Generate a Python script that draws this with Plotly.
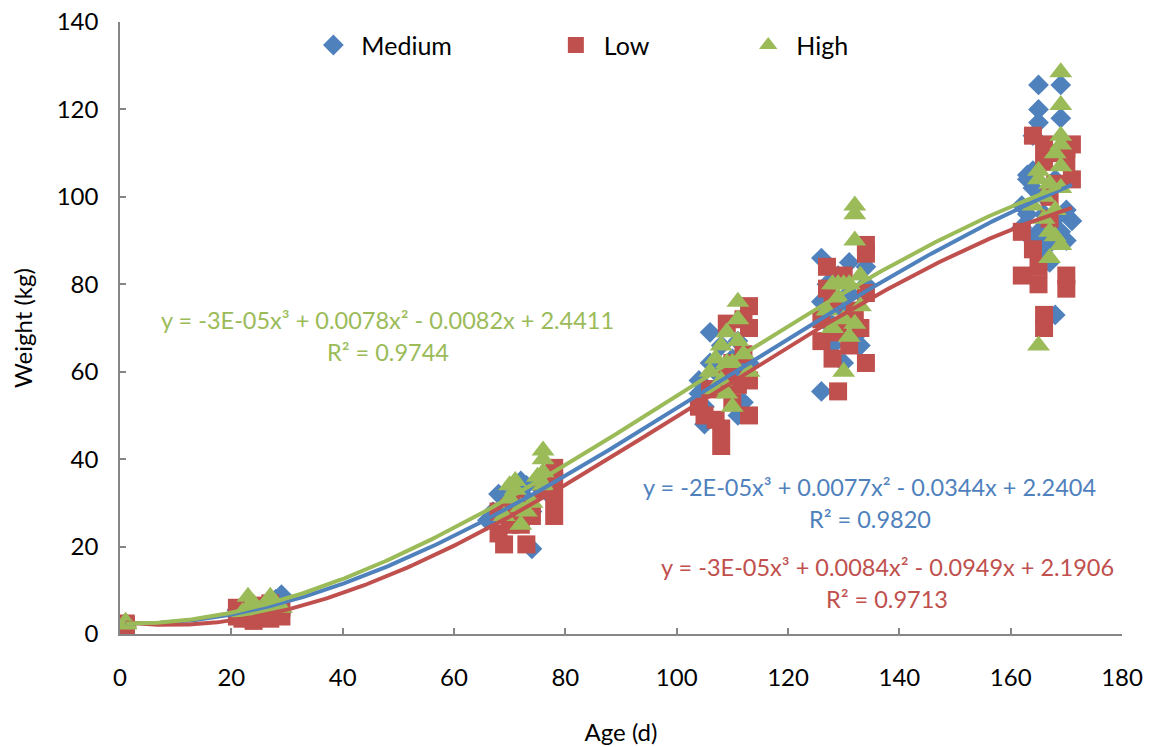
import numpy as np
import plotly.graph_objects as go

# ---------------- data ----------------
medium_age = [1, 1, 1, 1, 1,
              21, 22, 23, 24, 25, 26, 27, 28, 29, 29,
              66, 67, 68, 69, 70, 70, 71, 72, 72, 73, 74, 74, 75, 76, 77, 73,
              104, 104, 105, 105, 106, 106, 107, 108, 108, 109, 110, 111, 112, 112, 113, 111,
              126, 126, 126, 127, 128, 128, 129, 130, 130, 131, 132, 133, 134, 134, 127, 131,
              162, 162, 163, 163, 164, 164, 164, 165, 165, 165, 166, 166, 167, 168, 168, 169, 169, 170, 171,
              165, 166, 167, 168, 170, 163, 164, 169]
medium_weight = [2.0, 2.4, 1.9, 2.5, 2.2,
                 5.5, 6.5, 7.5, 4.5, 5.0, 6.0, 4.0, 8.0, 9.0, 5.0,
                 26, 28, 32, 27, 30, 27, 33, 35, 29, 31, 19.5, 28, 34, 36, 32, 34,
                 58, 55, 48, 52, 69, 62, 60, 66, 57, 56, 63, 50, 53, 59, 62, 67,
                 86, 76, 55.5, 80, 70, 66, 82, 74, 62, 78, 68, 66, 84, 80, 72, 85,
                 93, 98, 104, 105, 114, 106, 102, 125.6, 120, 117, 100, 96, 90, 73, 104, 125.6, 118, 97, 94.5,
                 92, 88, 85, 95, 90, 96, 90, 92]

low_age = [1, 1, 1, 1, 1,
           21, 21, 22, 23, 24, 25, 26, 27, 27, 28, 29, 29,
           68, 68, 69, 70, 70, 71, 72, 72, 73, 74, 76, 77, 78, 78, 78, 78,
           104, 105, 106, 107, 107, 108, 108, 109, 109, 110, 111, 112, 113, 113, 113, 113, 112, 110,
           126, 126, 127, 127, 128, 128, 129, 129, 130, 131, 132, 133, 134, 134, 134, 134,
           162, 162, 164, 164, 165, 165, 166, 166, 166, 166, 167, 167, 168, 169, 170, 170, 170, 170, 171, 171]
low_weight = [1.8, 2.3, 2.0, 2.4, 2.0,
              4.0, 6.0, 3.5, 5.0, 3.0, 4.5, 6.5, 3.5, 7.0, 5.0, 4.0, 6.0,
              23, 28, 20.5, 25, 29, 30, 25, 29, 20.5, 27, 33, 36, 27, 31, 35, 38,
              52, 50, 56, 49, 56, 43, 47, 60, 71, 62, 57, 64, 58, 50, 70, 75, 72, 53,
              72, 67, 84, 79, 63, 76, 55.5, 69, 82, 66, 74, 70, 89, 87, 62, 78,
              82, 92, 114, 88, 84, 80, 70, 73, 108, 112, 100, 95, 103, 110, 111, 108, 82, 79, 112, 104]

high_age = [1, 1, 1, 1, 1,
            22, 23, 23, 24, 25, 26, 27, 27, 28, 29,
            69, 70, 70, 71, 71, 72, 72, 73, 74, 75, 76, 76, 76, 76,
            106, 107, 108, 108, 109, 109, 110, 110, 111, 111, 111, 112, 113, 107, 109,
            127, 128, 128, 129, 129, 130, 130, 130, 131, 131, 132, 132, 132, 132, 133, 133,
            165, 165, 165, 166, 166, 167, 167, 168, 168, 168, 169, 169, 169, 169, 169, 169, 169, 164, 167]
high_weight = [2.2, 2.8, 2.3, 2.6, 2.3,
               5.0, 8.5, 6.0, 7.0, 5.5, 6.0, 8.5, 6.5, 7.0, 6.0,
               27, 31, 34, 33, 35, 29, 25, 28, 30, 36, 34, 37, 40, 42,
               60, 63, 58, 66, 69, 55, 52, 62, 76, 72, 67, 64, 60, 56, 62,
               74, 80, 70, 80, 77, 60, 80, 72, 68, 80, 96, 98, 90, 71, 75, 82,
               66, 106, 104, 100, 95, 92, 86, 110, 97, 91, 128.5, 121, 114, 112, 107, 102, 89, 98, 103]

series_names = ["Medium", "Low", "High"]
equations = ["y = -2E-05x³ + 0.0077x² - 0.0344x + 2.2404",
             "y = -3E-05x³ + 0.0084x² - 0.0949x + 2.1906",
             "y = -3E-05x³ + 0.0078x² - 0.0082x + 2.4411"]
r_squared = ["R² = 0.9820", "R² = 0.9713", "R² = 0.9744"]

# ---------------- styling ----------------
FONT = "Lato"
colors = {"Medium": "#4F81BD", "Low": "#C0504D", "High": "#9BBB59"}
symbols = {"Medium": "diamond", "Low": "square", "High": "triangle-up"}
sizes = {"Medium": 16, "Low": 18, "High": 20}
legend_ids = {"Medium": "legend", "Low": "legend2", "High": "legend3"}
legend_x = {"Medium": 0.185, "Low": 0.427, "High": 0.619}

data = {"Medium": (medium_age, medium_weight),
        "Low": (low_age, low_weight),
        "High": (high_age, high_weight)}

fig = go.Figure()
for name in series_names:
    x, y = data[name]
    fig.add_trace(go.Scatter(
        x=x, y=y, mode="markers", name=name, legend=legend_ids[name],
        marker=dict(symbol=symbols[name], size=sizes[name], color=colors[name],
                    line=dict(width=0)),
        hoverinfo="skip"))

# polynomial (order 3) trendlines fitted to each series
for name in series_names:
    x, y = data[name]
    coef = np.polyfit(x, y, 3)
    xs = np.linspace(min(x), max(x), 300)
    fig.add_trace(go.Scatter(
        x=xs, y=np.polyval(coef, xs), mode="lines", showlegend=False,
        line=dict(color=colors[name], width=4), hoverinfo="skip"))

# equation labels
eq_pos = {"Medium": (134.7, 33.6, 26.3), "Low": (137.8, 15.3, 8.0), "High": (48.1, 71.8, 64.5)}
for i, name in enumerate(series_names):
    xp, y1, y2 = eq_pos[name]
    fig.add_annotation(x=xp, y=y1, xref="x", yref="y", text=equations[i], showarrow=False,
                       font=dict(family=FONT, size=23.5, color=colors[name]))
    fig.add_annotation(x=xp, y=y2, xref="x", yref="y", text=r_squared[i], showarrow=False,
                       font=dict(family=FONT, size=23.5, color=colors[name]))

axis_common = dict(showgrid=False, zeroline=False, showline=True, linecolor="#868686",
                   linewidth=1.5, ticks="inside", ticklen=6, tickcolor="#868686",
                   tickwidth=1.5, automargin=False, ticklabeloverflow="allow",
                   tickfont=dict(family=FONT, size=24, color="#000000"))

legend_common = dict(orientation="h", y=0.962, xanchor="left", yanchor="middle",
                     itemwidth=46, font=dict(family=FONT, size=25, color="#000000"),
                     bgcolor="rgba(0,0,0,0)")

fig.update_layout(
    width=1143, height=739,
    margin=dict(l=112, r=29, t=14, b=113),
    paper_bgcolor="white", plot_bgcolor="white",
    font=dict(family=FONT, size=23, color="#000000"),
    xaxis=dict(range=[0, 180], dtick=20, tick0=0, ticklabelstandoff=21,
               title=dict(text="Age (d)", font=dict(family=FONT, size=24), standoff=35),
               **axis_common),
    yaxis=dict(range=[0, 140], dtick=20, tick0=0, ticklabelstandoff=15,
               title=dict(text="Weight (kg)", font=dict(family=FONT, size=24), standoff=25),
               **axis_common),
    legend=dict(x=legend_x["Medium"], **legend_common),
    legend2=dict(x=legend_x["Low"], **legend_common),
    legend3=dict(x=legend_x["High"], **legend_common),
    showlegend=True,
)

fig.write_html("out.html")
